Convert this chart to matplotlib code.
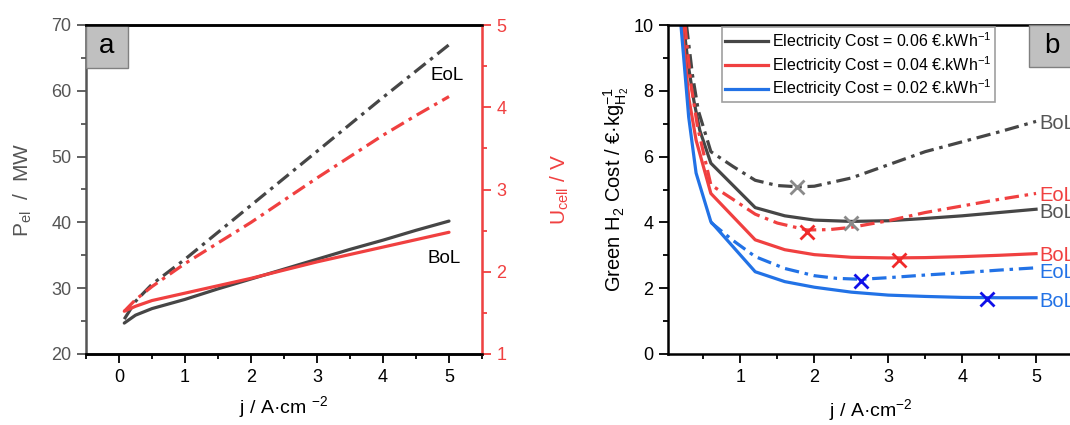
import matplotlib
matplotlib.use("Agg")
import matplotlib.pyplot as plt
from matplotlib.patches import Rectangle
from matplotlib.ticker import MultipleLocator

plt.rcParams['font.family'] = ['Liberation Sans', 'DejaVu Sans']
plt.rcParams['mathtext.fontset'] = 'custom'
plt.rcParams['mathtext.rm'] = 'Liberation Sans'
plt.rcParams['mathtext.it'] = 'Liberation Sans:italic'
plt.rcParams['mathtext.bf'] = 'Liberation Sans:bold'

# ---------------- data: panel a ----------------
j_a = [0.08, 0.25, 0.5, 1, 1.5, 2, 2.5, 3, 3.5, 4, 4.5, 5]
P_BoL = [24.7, 25.9, 26.9, 28.3, 29.9, 31.4, 32.9, 34.4, 35.9, 37.3, 38.8, 40.2]
P_EoL = [25.3, 28.0, 30.6, 34.4, 38.5, 42.6, 46.7, 50.8, 54.9, 59.0, 63.0, 67.0]
U_BoL = [1.52, 1.58, 1.65, 1.74, 1.83, 1.92, 2.02, 2.12, 2.21, 2.30, 2.39, 2.48]
U_EoL = [1.52, 1.66, 1.82, 2.10, 2.35, 2.60, 2.87, 3.14, 3.40, 3.66, 3.90, 4.13]

# ---------------- data: panel b ----------------
j_g_bol = [0.23, 0.3, 0.37, 0.45, 0.6, 1.2, 1.6, 2.0, 2.5, 3.0, 3.5, 4.0, 4.5, 5.0]
c_g_bol = [10, 8.7, 7.7, 6.8, 5.8, 4.45, 4.2, 4.07, 4.03, 4.05, 4.12, 4.2, 4.3, 4.4]
j_r_bol = [0.21, 0.3, 0.4, 0.6, 1.2, 1.6, 2.0, 2.5, 3.0, 3.5, 4.0, 4.5, 5.0]
c_r_bol = [10, 7.8, 6.5, 4.88, 3.47, 3.17, 3.02, 2.94, 2.92, 2.93, 2.96, 3.0, 3.05]
j_b_bol = [0.195, 0.3, 0.4, 0.6, 1.2, 1.6, 2.0, 2.5, 3.0, 3.5, 4.0, 4.5, 5.0]
c_b_bol = [10, 7.2, 5.5, 4.02, 2.5, 2.2, 2.03, 1.88, 1.79, 1.75, 1.72, 1.71, 1.71]
j_g_eol = [0.27, 0.35, 0.43, 0.6, 0.9, 1.2, 1.5, 1.8, 2.0, 2.5, 3.0, 3.5, 4.0, 4.5, 5.0]
c_g_eol = [10, 8.5, 7.4, 6.15, 5.7, 5.28, 5.12, 5.08, 5.1, 5.35, 5.75, 6.15, 6.45, 6.75, 7.07]
j_r_eol = [0.25, 0.33, 0.42, 0.6, 0.9, 1.2, 1.5, 1.9, 2.2, 2.5, 3.0, 3.5, 4.0, 4.5, 5.0]
c_r_eol = [10, 8.2, 6.9, 5.14, 4.7, 4.25, 3.98, 3.77, 3.78, 3.85, 4.05, 4.3, 4.5, 4.7, 4.88]
j_b_eol = [0.6, 0.9, 1.2, 1.6, 2.0, 2.3, 2.63, 3.0, 3.5, 4.0, 4.5, 5.0]
c_b_eol = [4.0, 3.45, 2.96, 2.6, 2.38, 2.3, 2.27, 2.32, 2.4, 2.47, 2.55, 2.62]

opt_j = [1.76, 2.49, 1.90, 3.15, 2.63, 4.34]
opt_cost = [5.09, 3.99, 3.70, 2.86, 2.22, 1.67]
opt_colors = ['#8a8a8a', '#8a8a8a', '#f02a2a', '#f02a2a', '#1010e8', '#1010e8']

legend_labels = [r'Electricity Cost = 0.06 €.kWh$^{-1}$',
                 r'Electricity Cost = 0.04 €.kWh$^{-1}$',
                 r'Electricity Cost = 0.02 €.kWh$^{-1}$']
end_labels = ['BoL', 'EoL', 'BoL', 'BoL', 'EoL', 'BoL']
end_y = [7.0, 4.82, 4.3, 3.0, 2.48, 1.6]

GRAY = '#464646'
RED = '#f04040'
BLUE = '#2272e6'
DD = (0, (4.5, 1.8, 1.1, 1.8))
LW = 2.3

fig = plt.figure(figsize=(10.7, 4.25), dpi=100)

# ---------------- panel a ----------------
ax = fig.add_axes([86/1070, 1-354/425, 396/1070, 329/425])
ax2 = ax.twinx()
ax.plot(j_a, P_BoL, color=GRAY, lw=LW, solid_capstyle='round')
ax.plot(j_a, P_EoL, color=GRAY, lw=LW, ls=DD)
ax2.plot(j_a, U_BoL, color=RED, lw=LW, solid_capstyle='round')
ax2.plot(j_a, U_EoL, color=RED, lw=LW, ls=DD)
ax.set_xlim(-0.5, 5.5)
ax.set_ylim(20, 70)
ax2.set_ylim(1, 5)
ax.xaxis.set_major_locator(MultipleLocator(1))
ax.xaxis.set_minor_locator(MultipleLocator(0.5))
ax.yaxis.set_major_locator(MultipleLocator(10))
ax.yaxis.set_minor_locator(MultipleLocator(5))
ax2.yaxis.set_major_locator(MultipleLocator(1))
ax2.yaxis.set_minor_locator(MultipleLocator(0.5))
for a in (ax, ax2):
    a.tick_params(which='major', length=6.5, width=1.3, labelsize=13, pad=4)
    a.tick_params(which='minor', length=3.3, width=1.3)
ax.tick_params(axis='y', which='both', colors='#555555', labelcolor='#555555')
ax2.tick_params(axis='y', which='both', colors=RED, labelcolor=RED)
for s in ('top', 'bottom'):
    ax.spines[s].set_linewidth(1.8)
    ax2.spines[s].set_linewidth(1.8)
ax.spines['left'].set_color('#555555')
ax.spines['left'].set_linewidth(1.8)
ax2.spines['right'].set_color(RED)
ax2.spines['right'].set_linewidth(1.8)
ax2.spines['left'].set_visible(False)
ax.set_xlabel(r'j / A·cm $^{-2}$', fontsize=14, labelpad=6)
ax.set_ylabel(r'P$_{\mathregular{el}}$  /  MW', fontsize=15, color='#555555', labelpad=12)
ax2.set_ylabel(r'U$_{\mathregular{cell}}$ / V', fontsize=15, color=RED, labelpad=30)
ax.text(4.97, 62.4, 'EoL', fontsize=13.5, ha='center', va='center')
ax.text(4.93, 34.5, 'BoL', fontsize=13.5, ha='center', va='center')
ax.add_patch(Rectangle((0, 1-43/329), 42/396, 43/329, transform=ax.transAxes,
                       facecolor='#c0c0c0', edgecolor='#808080', lw=1, zorder=5))
ax.text(21/396, 1-21/329, 'a', transform=ax.transAxes, fontsize=20,
        ha='center', va='center', zorder=6)

# ---------------- panel b ----------------
bx = fig.add_axes([668/1070, 1-354/425, 405/1070, 329/425])
bx.plot(j_g_bol, c_g_bol, color=GRAY, lw=LW, label=legend_labels[0])
bx.plot(j_r_bol, c_r_bol, color=RED, lw=LW, label=legend_labels[1])
bx.plot(j_b_bol, c_b_bol, color=BLUE, lw=LW, label=legend_labels[2])
bx.plot(j_g_eol, c_g_eol, color=GRAY, lw=LW, ls=DD)
bx.plot(j_r_eol, c_r_eol, color=RED, lw=LW, ls=DD)
bx.plot(j_b_eol, c_b_eol, color=BLUE, lw=LW, ls=DD)
for xj, yc, cc in zip(opt_j, opt_cost, opt_colors):
    bx.plot([xj], [yc], marker='x', ms=10, mew=2, color=cc, ls='none', zorder=4)
end_colors = ['#555555', RED, '#555555', RED, BLUE, BLUE]
for lab, yy, cc in zip(end_labels, end_y, end_colors):
    bx.text(5.04, yy, lab, fontsize=14.5, color=cc, ha='left', va='center', clip_on=False)
bx.set_xlim(0.02, 5.5)
bx.set_ylim(0, 10)
bx.xaxis.set_major_locator(MultipleLocator(1))
bx.xaxis.set_minor_locator(MultipleLocator(0.5))
bx.yaxis.set_major_locator(MultipleLocator(2))
bx.yaxis.set_minor_locator(MultipleLocator(1))
bx.tick_params(which='major', length=6.5, width=1.3, labelsize=13, pad=4)
bx.tick_params(which='minor', length=3.3, width=1.3)
for s in bx.spines.values():
    s.set_linewidth(1.8)
bx.set_xlabel(r'j / A·cm$^{-2}$', fontsize=14, labelpad=8)
bx.set_ylabel(r'Green H$_2$ Cost / €·kg$\mathregular{^{-1}_{H_2}}$', fontsize=14.5, labelpad=2)
leg = bx.legend(loc='upper left', bbox_to_anchor=(722/1070, 1-27/425),
                bbox_transform=fig.transFigure, fontsize=11.5, frameon=True,
                fancybox=False, edgecolor='#a0a0a0', framealpha=1,
                handlelength=2.7, handletextpad=0.25, labelspacing=0.12,
                borderpad=0.2, borderaxespad=0)
leg.get_frame().set_linewidth(1.2)
bx.add_patch(Rectangle((1029/1070, 1-67/425), 60/1070, 42/425, transform=fig.transFigure,
                       facecolor='#c0c0c0', edgecolor='#808080', lw=1, zorder=5))
fig.text(1052/1070, 1-46/425, 'b', fontsize=20, ha='center', va='center', zorder=6)

fig.savefig('out.png', dpi=100)
